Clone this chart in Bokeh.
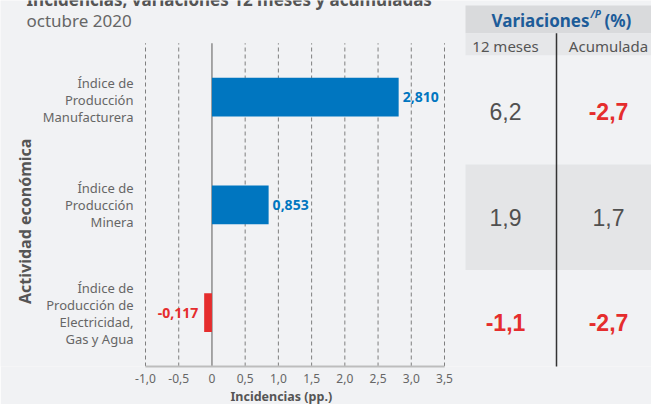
import math
from bokeh.plotting import figure
from bokeh.models import Range1d, LinearAxis, FixedTicker, CustomJSTickFormatter, Title
from bokeh.core.properties import value
from bokeh.embed import file_html
from bokeh.resources import INLINE

# ---------------- data ----------------
categories = ["Índice de\nProducción\nManufacturera",
              "Índice de\nProducción\nMinera",
              "Índice de\nProducción de\nElectricidad,\nGas y Agua"]
incidencias = [2.810, 0.853, -0.117]
incid_labels = ["2,810", "0,853", "-0,117"]
var_12m = [6.2, 1.9, -1.1]
var_acum = [-2.7, 1.7, -2.7]
x_ticks = [-1.0, -0.5, 0.0, 0.5, 1.0, 1.5, 2.0, 2.5, 3.0, 3.5]

# ---------------- layout constants (pixels) ----------------
W, H = 651, 404
FRAME_BOTTOM = 368
BOTTOM_PANEL = H - FRAME_BOTTOM
CH_LEFT, CH_RIGHT, CH_TOP = 145, 444, 43
BG = "#f1f2f4"
BLUE = "#0076c0"
RED = "#e52d2d"
GREY_TXT = "#666666"
FONT = "Noto Sans"

x_lo, x_hi = x_ticks[0], x_ticks[-1]
k = (CH_RIGHT - CH_LEFT) / (x_hi - x_lo)
chart_start = x_lo - CH_LEFT / k
chart_end = x_hi + (W - CH_RIGHT) / k
n = len(categories)
band = (FRAME_BOTTOM - CH_TOP) / n
cat_end = n + CH_TOP / band

p = figure(width=W, height=H, output_backend="svg", toolbar_location=None,
           x_range=Range1d(0, W), y_range=Range1d(FRAME_BOTTOM, 0),
           min_border_left=0, min_border_right=0, min_border_top=0,
           min_border_bottom=BOTTOM_PANEL,
           x_axis_type=None, y_axis_type=None)
p.extra_x_ranges = {"chart": Range1d(chart_start, chart_end)}
p.extra_y_ranges = {"cat": Range1d(0, cat_end)}
p.background_fill_color = BG
p.border_fill_color = BG
p.outline_line_color = None
p.grid.visible = False

# ---------------- chart ----------------
ypos = [n - 0.5 - i for i in range(n)]
grid_x = [t for t in x_ticks if t != 0]
p.segment(x0=grid_x, x1=grid_x, y0=[0] * len(grid_x), y1=[n] * len(grid_x),
          x_range_name="chart", y_range_name="cat",
          line_color="#7f7f7f", line_width=1, line_dash="4 3")
p.segment(x0=[0], x1=[0], y0=[0], y1=[n], x_range_name="chart", y_range_name="cat",
          line_color="#8c8c8c", line_width=1.5)

colors = [BLUE if v >= 0 else RED for v in incidencias]
p.hbar(y=ypos, left=0, right=incidencias, height=0.36, fill_color=colors,
       line_color=None, x_range_name="chart", y_range_name="cat")

pos = [i for i, v in enumerate(incidencias) if v >= 0]
neg = [i for i, v in enumerate(incidencias) if v < 0]
p.text(x=[incidencias[i] for i in pos], y=[ypos[i] for i in pos],
       text=[incid_labels[i] for i in pos], x_offset=4,
       x_range_name="chart", y_range_name="cat",
       text_align="left", text_baseline="middle", text_color=BLUE,
       text_font=value(FONT), text_font_style="bold", text_font_size="14px")
p.text(x=[incidencias[i] for i in neg], y=[ypos[i] for i in neg],
       text=[incid_labels[i] for i in neg], x_offset=-6,
       x_range_name="chart", y_range_name="cat",
       text_align="right", text_baseline="middle", text_color=RED,
       text_font=value(FONT), text_font_style="bold", text_font_size="14px")

# category labels
p.text(x=[133] * n, y=ypos, text=categories, y_range_name="cat", y_offset=[3, 0, 1],
       text_align="right", text_baseline="middle", text_color=GREY_TXT,
       text_font=value(FONT), text_font_size="13px", text_line_height=0.95)

# y axis title
p.text(x=[24], y=[222], text=["Actividad económica"], angle=math.pi / 2,
       text_align="center", text_baseline="middle", text_color="#555555",
       text_font=value(FONT), text_font_style="bold", text_font_size="16px")

# titles
p.text(x=[26], y=[-1], text=["Incidencias, variaciones 12 meses y acumuladas"],
       text_align="left", text_baseline="middle", text_color="#555555",
       text_font=value(FONT), text_font_style="bold", text_font_size="17px")
p.text(x=[26], y=[20], text=["octubre 2020"],
       text_align="left", text_baseline="middle", text_color=GREY_TXT,
       text_font=value(FONT), text_font_size="17px")

# x axis
xaxis = LinearAxis(x_range_name="chart", bounds=(x_lo, x_hi),
                   ticker=FixedTicker(ticks=x_ticks),
                   formatter=CustomJSTickFormatter(code="""
                       return tick == 0 ? "0" : tick.toFixed(1).replace(".", ",");
                   """))
xaxis.axis_line_color = "#bdbdbd"
xaxis.axis_line_width = 2
xaxis.major_tick_in = 0
xaxis.major_tick_out = 0
xaxis.minor_tick_in = 0
xaxis.minor_tick_out = 0
xaxis.major_label_standoff = 7
xaxis.major_label_text_font = FONT
xaxis.major_label_text_font_size = "12px"
xaxis.major_label_text_color = GREY_TXT
p.add_layout(xaxis, "below")
p.add_layout(Title(text="Incidencias (pp.)", align="left", offset=230,
                   text_font=FONT, text_font_size="12.5px", text_font_style="bold",
                   text_color="#555555", standoff=0), "below")

# ---------------- table ----------------
T_LEFT, T_RIGHT = 465, 667
COL_X = [505, 608]
ROW_Y0, ROW_H = 112, 106
DIV_X = 556

p.quad(left=[T_LEFT], right=[T_RIGHT], top=[5], bottom=[33], fill_color="#d9dadc", line_color=None)
p.quad(left=[T_LEFT], right=[T_RIGHT], top=[33], bottom=[55], fill_color="#e6e7e9", line_color=None)
p.quad(left=[T_LEFT], right=[T_RIGHT], top=[ROW_Y0 + ROW_H / 2], bottom=[ROW_Y0 + 1.5 * ROW_H],
       fill_color="#e4e5e7", line_color=None)
p.segment(x0=[DIV_X], x1=[DIV_X], y0=[33], y1=[373], line_color="#333333", line_width=1.5)

p.text(x=[589], y=[20], text=["Variaciones"], text_align="right", text_baseline="middle",
       text_color="#1d5c99", text_font=value(FONT), text_font_style="bold", text_font_size="17px")
p.text(x=[590], y=[14], text=["/P"], text_align="left", text_baseline="middle",
       text_color="#1d5c99", text_font=value(FONT), text_font_style="bold italic", text_font_size="10px")
p.text(x=[604], y=[20], text=["(%)"], text_align="left", text_baseline="middle",
       text_color="#1d5c99", text_font=value(FONT), text_font_style="bold", text_font_size="17px")
p.text(x=COL_X, y=[46, 46], text=["12 meses", "Acumulada"], text_align="center", text_baseline="middle",
       text_color="#555555", text_font=value(FONT), text_font_size="15px")

def fmt(v):
    return f"{v:.1f}".replace(".", ",")

for col, vals in enumerate([var_12m, var_acum]):
    for i, v in enumerate(vals):
        p.text(x=[COL_X[col]], y=[ROW_Y0 + i * ROW_H], text=[fmt(v)],
               text_align="center", text_baseline="middle",
               text_color=RED if v < 0 else "#505050",
               text_font=value("Liberation Sans"),
               text_font_style="bold" if v < 0 else "normal",
               text_font_size="23px")

open("out.html", "w").write(file_html(p, INLINE))
